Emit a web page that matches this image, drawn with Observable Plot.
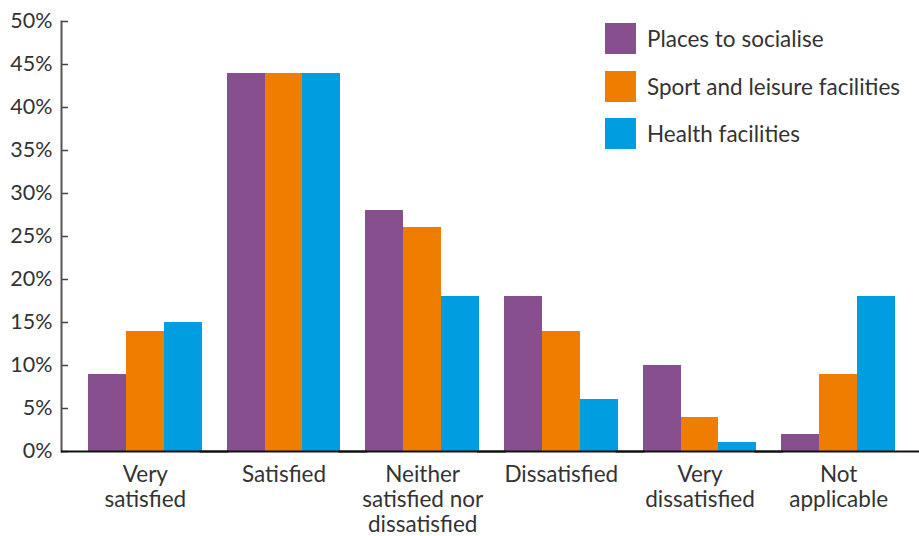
<!DOCTYPE html>
<html>
<head>
<meta charset="utf-8">
<script src="https://cdn.jsdelivr.net/npm/d3@7"></script>
<script src="https://cdn.jsdelivr.net/npm/@observablehq/plot@0.6"></script>
<style>
  html, body { margin: 0; padding: 0; background: #fff; }
  #wrap { position: relative; width: 919px; height: 536px; font-family: Lato, "Open Sans", sans-serif; }
  #legend { position: absolute; left: 605px; top: 23px; }
  .item { display: flex; align-items: center; height: 31px; margin-bottom: 16.5px; font-size: 22.5px; color: #333; }
  .sw { width: 31px; height: 31px; margin-right: 11px; flex: none; }
</style>
</head>
<body>
<div id="wrap"><div id="legend"></div></div>
<script>
const categories = ["Very satisfied", "Satisfied", "Neither satisfied nor dissatisfied", "Dissatisfied", "Very dissatisfied", "Not applicable"];
const categoryLabels = ["Very\nsatisfied", "Satisfied", "Neither\nsatisfied nor\ndissatisfied", "Dissatisfied", "Very\ndissatisfied", "Not\napplicable"];
const series = ["Places to socialise", "Sport and leisure facilities", "Health facilities"];
const colors = ["#884F8F", "#EF7D00", "#009EE0"];
const placesToSocialise = [9, 44, 28, 18, 10, 2];
const sportAndLeisure = [14, 44, 26, 14, 4, 9];
const healthFacilities = [15, 44, 18, 6, 1, 18];
const yTicks = [0, 5, 10, 15, 20, 25, 30, 35, 40, 45, 50];

const values = [placesToSocialise, sportAndLeisure, healthFacilities];
const data = [];
categories.forEach((c, i) => series.forEach((s, j) => data.push({category: c, series: s, value: values[j][i]})));
const labelOf = new Map(categories.map((c, i) => [c, categoryLabels[i]]));

const W = 919, H = 536, mL = 61, mR = 1, mT = 21, mB = 85, pad = 0.18;

function build(gap) {
  return Plot.plot({
    width: W,
    height: H,
    marginTop: mT,
    marginBottom: mB,
    marginLeft: mL,
    marginRight: mR,
    style: {fontFamily: "Lato, 'Open Sans', sans-serif", color: "#333", background: "#fff"},
    fx: {domain: categories, paddingInner: pad, paddingOuter: pad, align: 0.54, round: false, label: null},
    x: {domain: series, padding: 0, round: false, axis: null},
    y: {domain: [0, 50], label: null, axis: null},
    color: {domain: series, range: colors},
    marks: [
      Plot.barY(data, {fx: "category", x: "series", y: "value", fill: "series", inset: 0, shapeRendering: "crispEdges"}),
      Plot.axisFx({anchor: "bottom", tickSize: 0, tickPadding: 13, fontSize: 22.5, lineHeight: 1.11, tickFormat: d => labelOf.get(d), label: null, fill: "#333"}),
      Plot.axisY(yTicks, {anchor: "left", tickSize: 0, tickPadding: 9, dx: -gap, fontSize: 21.5, tickFormat: d => d + "%", label: null, fill: "#333"}),
      Plot.axisY(yTicks, {anchor: "left", tickSize: 6, dx: -gap + 7, text: null, label: null, stroke: "#444", strokeWidth: 1.5}),
      Plot.frame({anchor: "left", facetAnchor: "left", dx: -gap, stroke: "#555", strokeWidth: 2}),
      Plot.ruleY([0], {insetLeft: -gap, insetRight: -gap, stroke: "#111", strokeWidth: 2})
    ]
  });
}

// first pass: find where Plot puts the first facet, so the y axis can sit on the plot's left edge
const probe = build(0);
const gap = probe.scale("fx").apply(categories[0]) - mL;
const chart = build(gap);
document.getElementById("wrap").prepend(chart);

const legend = document.getElementById("legend");
series.forEach((s, i) => {
  const item = document.createElement("div");
  item.className = "item";
  item.innerHTML = `<div class="sw" style="background:${colors[i]}"></div><span>${s}</span>`;
  legend.appendChild(item);
});
</script>
</body>
</html>
